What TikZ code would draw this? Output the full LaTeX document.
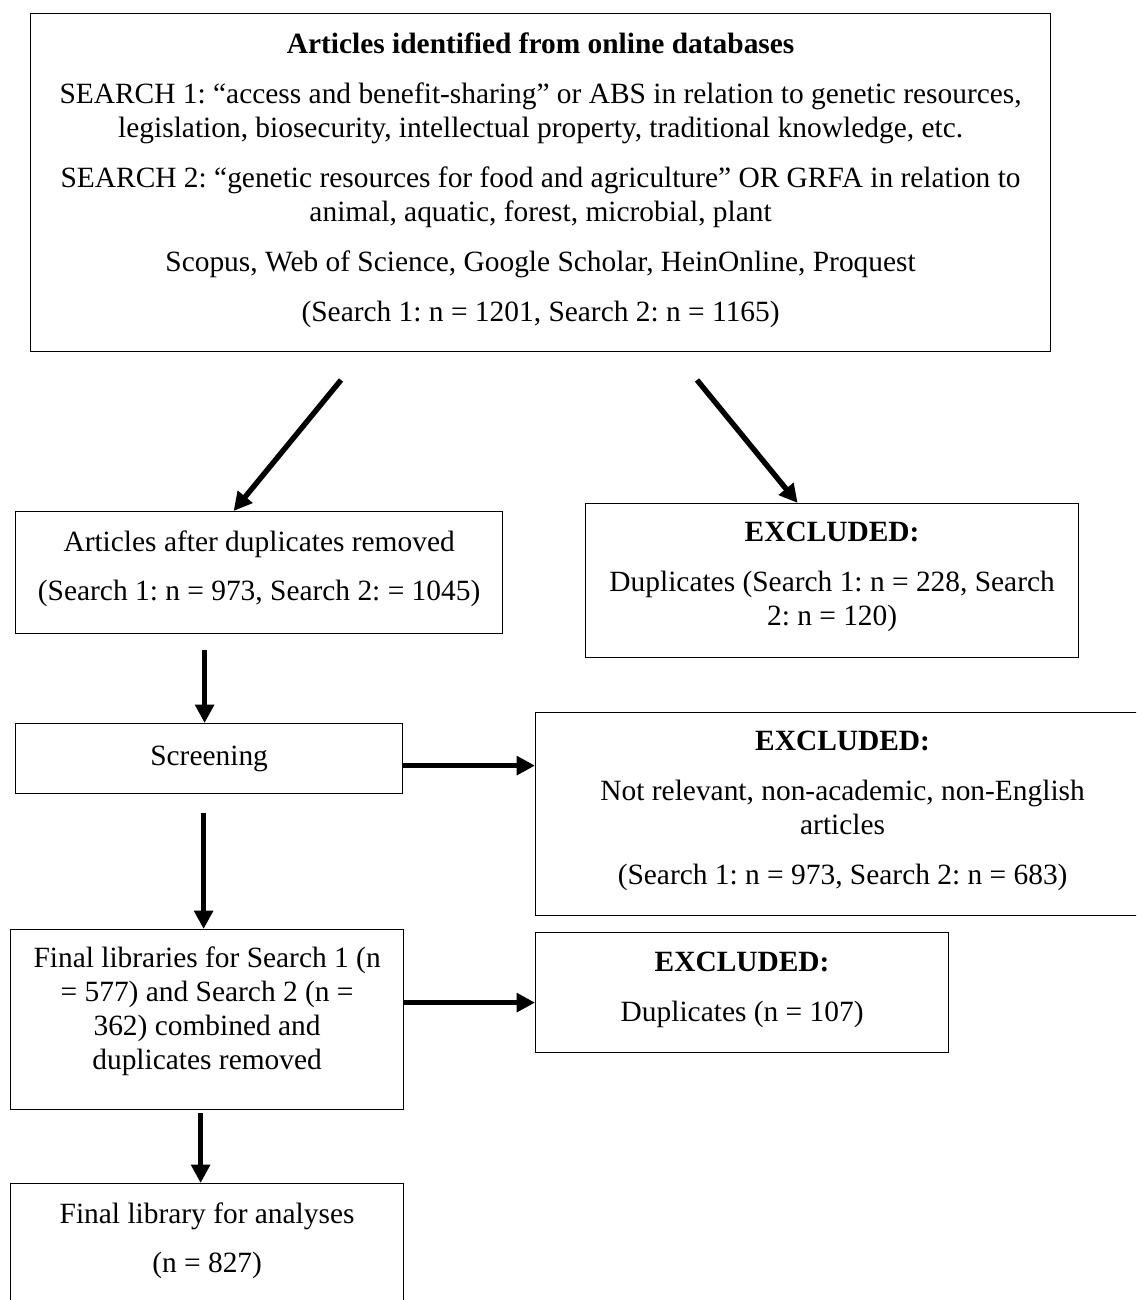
\documentclass[tikz,border=0pt]{standalone}
\usepackage{fontspec}
\setmainfont{Liberation Serif}
\usetikzlibrary{arrows.meta,calc}
\newcommand{\pxu}{0.408pt}
\newcommand{\lift}[1]{\rule[-#1]{0pt}{0pt}}
\begin{document}
\frenchspacing
\begin{tikzpicture}[x=0.408pt,y=-0.408pt,
  box/.style={draw, line width=0.5pt, align=center, inner sep=0pt, anchor=north west,
    font=\fontsize{12}{13.87}\selectfont\frenchspacing},
  arr/.style={line width=2.2pt, -{Triangle[length=7.5pt,width=7.5pt]}},
  ]
\path[use as bounding box, clip] (0,0) rectangle (1136,1300);

\node[box, minimum width=1020*\pxu, minimum height=338*\pxu] (top) at (30,13)
 {\textbf{Articles identified from online databases}\\[6.5pt]
  SEARCH 1: “access and benefit-sharing” or ABS in relation to genetic resources,\\
  legislation, biosecurity, intellectual property, traditional knowledge, etc.\\[6.5pt]
  SEARCH 2: “genetic resources for food and agriculture” OR GRFA in relation to\\
  animal, aquatic, forest, microbial, plant\\[6.5pt]
  Scopus, Web of Science, Google Scholar, HeinOnline, Proquest\\[6.5pt]
  (Search 1: n = 1201, Search 2: n = 1165)\lift{4.5pt}};

\node[box, minimum width=487*\pxu, minimum height=122*\pxu] (b2) at (15,511)
 {Articles after duplicates removed\\[6.5pt]
  (Search 1: n = 973, Search 2: = 1045)\lift{5.7pt}};

\node[box, minimum width=493*\pxu, minimum height=154*\pxu] (b3) at (585,503)
 {\textbf{EXCLUDED:}\\[6.5pt]
  Duplicates (Search 1: n = 228, Search\\
  2: n = 120)\lift{5.7pt}};

\node[box, minimum width=387*\pxu, minimum height=70*\pxu] (scr) at (15,723)
 {Screening};

\node[box, minimum width=614*\pxu, minimum height=203*\pxu] (ex2) at (535,712)
 {\textbf{EXCLUDED:}\\[6.5pt]
  Not relevant, non-academic, non-English\\
  articles\\[6.5pt]
  (Search 1: n = 973, Search 2: n = 683)\lift{4.9pt}};

\node[box, minimum width=393*\pxu, minimum height=180*\pxu] (fl) at (10,929)
 {Final libraries for Search 1 (n\\
  = 577) and Search 2 (n =\\
  362) combined and\\
  duplicates removed\lift{9.4pt}};

\node[box, minimum width=413*\pxu, minimum height=120*\pxu] (e107) at (535,932)
 {\textbf{EXCLUDED:}\\[6.5pt]
  Duplicates (n = 107)\lift{5pt}};

\node[box, minimum width=393*\pxu, minimum height=137*\pxu] (fin) at (10,1183)
 {Final library for analyses\\[6.5pt]
  (n = 827)\lift{11.8pt}};

\coordinate (s1) at (341,380);
\coordinate (s2) at (697,380);
\draw[arr] (s1) -- ($(b2.north)+(-25.5,0)$);
\draw[arr] (s2) -- ($(b3.north)+(-34.5,0)$);
\draw[arr] ($(b2.south)+(-54.5,16)$) -- ($(scr.north)+(-4.5,0)$);
\draw[arr] ($(scr.south)+(-5.5,19)$) -- ($(fl.north)+(-3.5,0)$);
\draw[arr] ($(fl.south)+(-6.5,3)$) -- ($(fin.north)+(-6.5,0)$);
\coordinate (a3) at ($(scr.east)+(0,7)$);
\draw[arr] (a3) -- (a3 -| ex2.west);
\coordinate (a4) at ($(fl.east)+(0,-17)$);
\draw[arr] (a4) -- (a4 -| e107.west);
\end{tikzpicture}
\end{document}
